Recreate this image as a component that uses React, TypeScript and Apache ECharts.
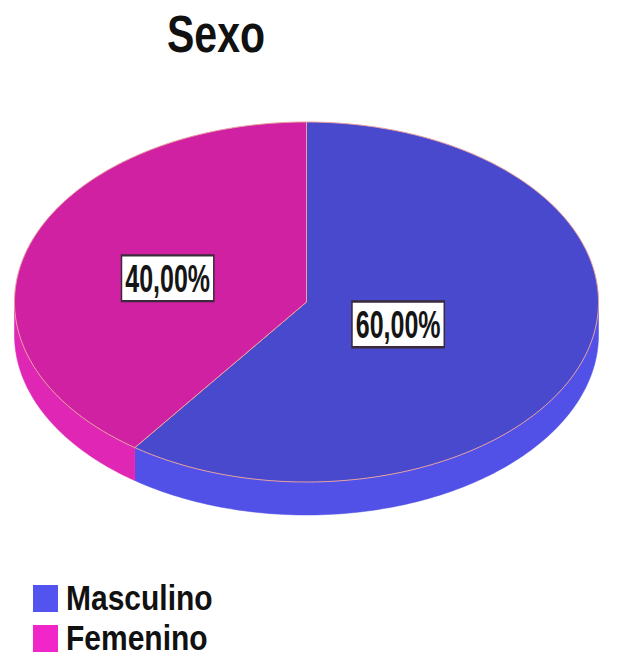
import React, { useEffect, useRef } from "react";
import * as echarts from "echarts";

const titleText = "Sexo";
const categories = ["Masculino", "Femenino"];
const values = [60, 40];

const topColors = ["#4949cd", "#d021a2"];
const sideColors = ["#5151e8", "#e026b4"];
const legendColors = ["#5353f0", "#f026c8"];
const labelFractions = [0.33, 0.5];

const FONT = '"Liberation Sans", Arial, sans-serif';

export default function App() {
  const ref = useRef<HTMLDivElement>(null);
  useEffect(() => {
    if (!ref.current) return;
    const chart = echarts.init(ref.current, undefined, { renderer: "svg" });
    const total = values.reduce((a, b) => a + b, 0);
    const cx = 306.5;
    const cy = 302;
    const rx = 292;
    const ry = 180;
    const depth = 33;
    const pt = (t: number, dy = 0) => {
      const r = (t * Math.PI) / 180;
      return [cx + rx * Math.sin(r), cy - ry * Math.cos(r) + dy];
    };
    const arc = (a: number, b: number, dy = 0) => {
      const pts: number[][] = [];
      const n = Math.max(2, Math.ceil(Math.abs(b - a)));
      for (let i = 0; i <= n; i++) pts.push(pt(a + ((b - a) * i) / n, dy));
      return pts;
    };
    const starts: number[] = [];
    let acc = 0;
    values.forEach((v) => {
      starts.push(acc);
      acc += (v / total) * 360;
    });

    const renderItem = (params: any, api: any) => {
      const i = params.dataIndex;
      const v = api.value(0);
      const t0 = starts[i];
      const t1 = t0 + (v / total) * 360;
      const children: any[] = [];
      const a = Math.max(t0, 90);
      const b = Math.min(t1, 270);
      if (a < b) {
        const side = arc(a, b, 0).concat(arc(b, a, depth));
        children.push({
          type: "polygon",
          shape: { points: side },
          style: { fill: sideColors[i], stroke: sideColors[i], lineWidth: 0.5 },
          z2: 1,
        });
      }
      const top = [[cx, cy]].concat(arc(t0, t1, 0));
      children.push({
        type: "polygon",
        shape: { points: top },
        style: { fill: topColors[i], stroke: "#e8a0a0", lineWidth: 1 },
        z2: 2,
      });
      const mid = (t0 + t1) / 2;
      const f = labelFractions[i];
      const r = (mid * Math.PI) / 180;
      const lx = cx + f * rx * Math.sin(r);
      const ly = cy - f * ry * Math.cos(r) + 4;
      const txt = ((v / total) * 100).toFixed(2).replace(".", ",") + "%";
      children.push({
        type: "text",
        x: lx,
        y: ly,
        scaleY: 1.55,
        z2: 10,
        style: {
          text: txt,
          x: 0,
          y: 0,
          align: "center",
          verticalAlign: "middle",
          font: "bold 25px " + FONT,
          fill: "#151515",
          backgroundColor: "#ffffff",
          borderColor: "#3a2a3a",
          borderWidth: 1.5,
          padding: [2, 3, 1, 3],
        },
      });
      return { type: "group", children };
    };

    const legendGraphics: any[] = [];
    categories.forEach((c, i) => {
      const y0 = 585 + i * 40;
      legendGraphics.push({
        type: "rect",
        shape: { x: 33, y: y0, width: 25, height: 27 },
        style: { fill: legendColors[i] },
      });
      legendGraphics.push({
        type: "text",
        x: 66,
        y: y0 + 13,
        scaleY: 1.15,
        style: {
          text: c,
          x: 0,
          y: 0,
          align: "left",
          verticalAlign: "middle",
          font: "bold 30px " + FONT,
          fill: "#111111",
          lineHeight: 30,
        },
      });
    });

    chart.setOption({
      animation: false,
      backgroundColor: "#ffffff",
      graphic: [
        {
          type: "text",
          x: 216,
          y: 34,
          scaleY: 1.25,
          style: {
            text: titleText,
            x: 0,
            y: 0,
            align: "center",
            verticalAlign: "middle",
            font: "bold 41px " + FONT,
            fill: "#111111",
          },
        },
        ...legendGraphics,
      ],
      series: [
        {
          type: "custom",
          coordinateSystem: "none",
          renderItem,
          data: categories.map((c, i) => ({ name: c, value: [values[i]] })),
          silent: true,
        },
      ],
    });
    return () => chart.dispose();
  }, []);
  return (
    <div
      ref={ref}
      style={{ position: "absolute", left: 0, top: 0, width: 618, height: 656 }}
    />
  );
}
